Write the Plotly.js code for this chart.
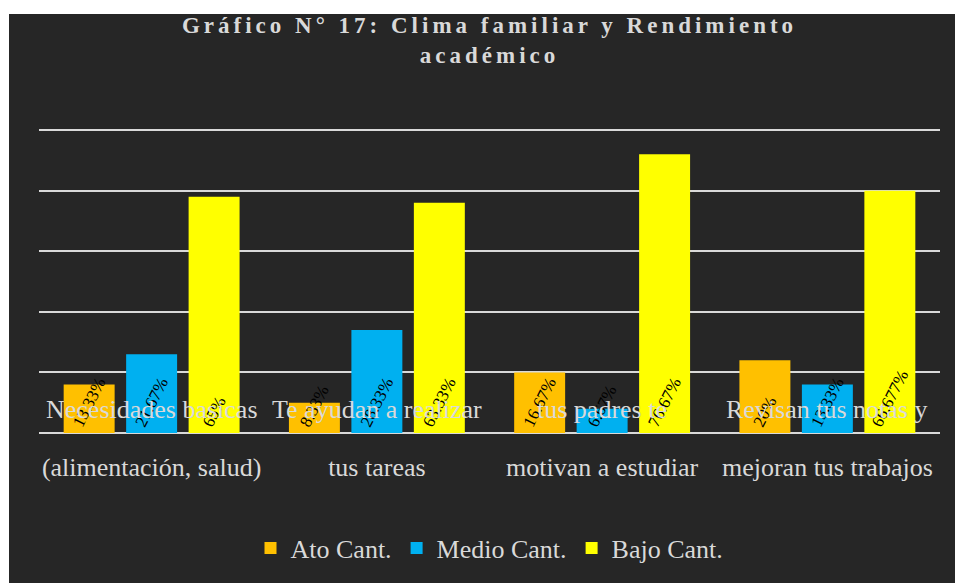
<!DOCTYPE html>
<html>
<head>
<meta charset="utf-8">
<script src="https://cdn.plot.ly/plotly-3.0.1.min.js"></script>
<style>
  html, body { margin: 0; padding: 0; background: #ffffff; }
  #chart { position: absolute; left: 9px; top: 14px; width: 946px; height: 569px; }
  /* the original title is widely letter-spaced */
  #chart .gtitle { letter-spacing: 4px; }
</style>
</head>
<body>
<div id="chart"></div>
<script>
// Categories (the original label is split over two lines far apart)
const catLine1 = ['Necesidades basicas', 'Te ayudan a realizar', 'tus padres te', 'Revisan tus notas y'];
const catLine2 = ['(alimentación, salud)', 'tus tareas', 'motivan a estudiar', 'mejoran tus trabajos'];
const categories = catLine1.map((c, i) => c + ' ' + catLine2[i]);

// Counts (n = 60) and the percentage labels printed on the bars
const altoValues = [8, 5, 10, 12];
const medioValues = [13, 17, 4, 8];
const bajoValues = [39, 38, 46, 40];
const altoLabels = ['13.33%', '8.33%', '16.67%', '20%'];
const medioLabels = ['21.67%', '28.33%', '6.67%', '13.33%'];
const bajoLabels = ['65%', '63.33%', '76.67%', '66.677%'];

const seriesNames = ['Ato Cant.', 'Medio Cant.', 'Bajo Cant.'];
const seriesColors = ['#FFC000', '#00B0F0', '#FFFF00'];

const TEXT_GRAY = '#d9d9d9';
const SERIF = 'Liberation Serif, serif';

function barTrace(name, values, labels, color) {
  return {
    type: 'bar',
    name: name,
    x: categories,
    y: values,
    text: labels,
    textposition: 'inside',
    insidetextanchor: 'start',
    constraintext: 'none',
    textangle: -63,
    textfont: { family: SERIF, size: 17, color: '#000000' },
    marker: { color: color },
    hoverinfo: 'skip'
  };
}

const traces = [
  barTrace(seriesNames[0], altoValues, altoLabels, seriesColors[0]),
  barTrace(seriesNames[1], medioValues, medioLabels, seriesColors[1]),
  barTrace(seriesNames[2], bajoValues, bajoLabels, seriesColors[2])
];

// First line of each category label sits just above the axis
const annotations = catLine1.map((t, i) => ({
  x: categories[i],
  y: 0,
  xref: 'x',
  yref: 'y',
  yshift: 24,
  yanchor: 'middle',
  text: t,
  showarrow: false,
  font: { family: SERIF, size: 26, color: TEXT_GRAY }
}));

const layout = {
  width: 946,
  height: 569,
  paper_bgcolor: '#262626',
  plot_bgcolor: '#262626',
  margin: { l: 30, r: 15, t: 104, b: 147 },
  barmode: 'group',
  bargap: 0.168,
  bargroupgap: 0.184,
  title: {
    text: 'Gráfico N° 17: Clima familiar y Rendimiento<br>académico',
    font: { family: SERIF, size: 23, color: TEXT_GRAY, weight: 'bold' },
    x: 0.5,
    xref: 'paper',
    xanchor: 'center',
    y: 0.966,
    yref: 'container',
    yanchor: 'top'
  },
  xaxis: {
    type: 'category',
    tickvals: categories,
    ticktext: catLine2,
    tickfont: { family: SERIF, size: 26, color: TEXT_GRAY },
    showgrid: false,
    showline: false,
    ticks: '',
    ticklabelstandoff: 16
  },
  yaxis: {
    range: [0, 52],
    dtick: 10,
    showticklabels: false,
    showgrid: true,
    gridcolor: TEXT_GRAY,
    gridwidth: 2,
    zeroline: true,
    zerolinecolor: TEXT_GRAY,
    zerolinewidth: 2,
    ticks: ''
  },
  showlegend: true,
  legend: {
    orientation: 'h',
    x: 0.5,
    xanchor: 'center',
    y: -0.365,
    yanchor: 'middle',
    itemwidth: 30,
    font: { family: SERIF, size: 26, color: TEXT_GRAY },
    bgcolor: 'rgba(0,0,0,0)'
  },
  annotations: annotations
};

Plotly.newPlot('chart', traces, layout, { staticPlot: true, displayModeBar: false });
</script>
</body>
</html>
